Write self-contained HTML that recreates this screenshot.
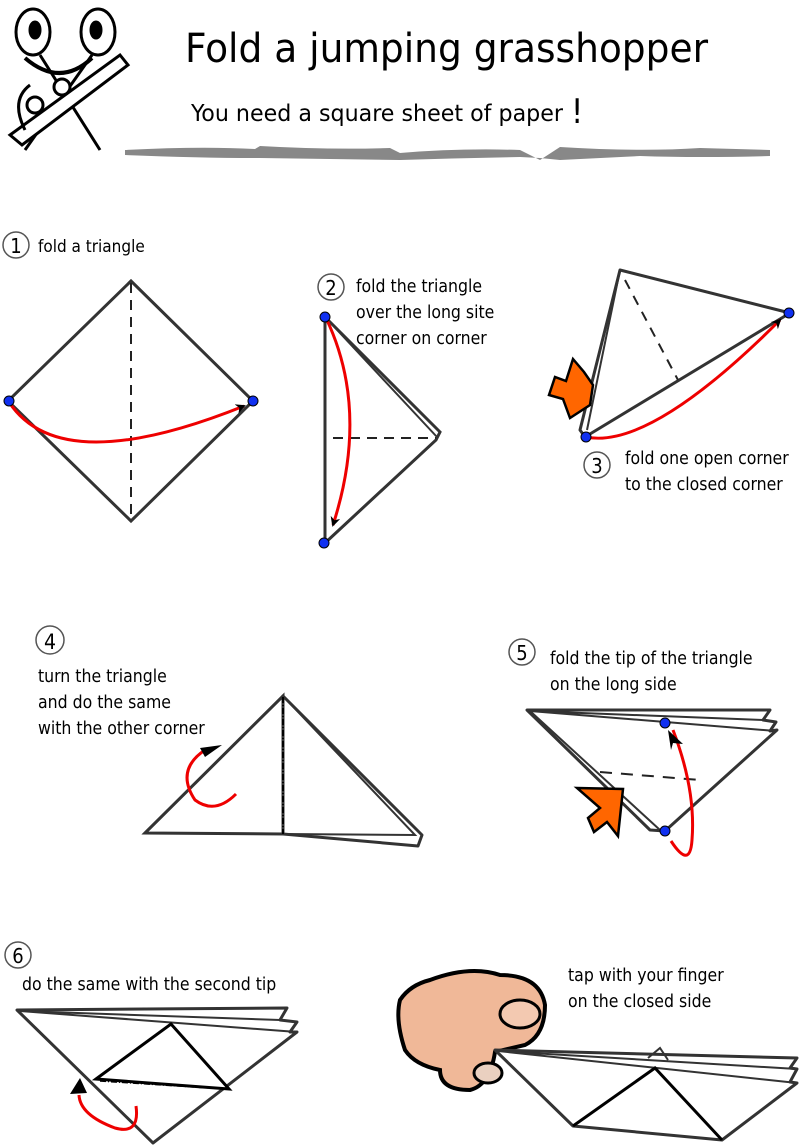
<!DOCTYPE html><html><head><meta charset="utf-8"><style>
body{margin:0;background:#fff}
svg{display:block}
text{font-family:"DejaVu Sans Condensed","Liberation Sans",sans-serif;fill:#000}
</style></head><body>
<svg width="800" height="1147" viewBox="0 0 800 1147" xmlns="http://www.w3.org/2000/svg">
<defs>
<marker id="ah" markerWidth="10" markerHeight="10" refX="8" refY="5" orient="auto" markerUnits="userSpaceOnUse"><path d="M0,0 L10,5 L0,10 L3,5z" fill="#000"/></marker>
</defs>
<!-- scissors mascot -->
<g fill="none" stroke="#000" stroke-width="3">
<path d="M40,55 L100,150 M92,55 L25,150"/>
<ellipse cx="33" cy="32" rx="17" ry="23" fill="#fff"/>
<ellipse cx="98" cy="32" rx="17" ry="23" fill="#fff"/>
<ellipse cx="35" cy="30" rx="5" ry="8" fill="#000"/>
<ellipse cx="96" cy="30" rx="5" ry="8" fill="#000"/>
<path d="M25,58 Q60,88 92,58" stroke-width="4"/>
<path d="M10,135 L120,55 L128,65 L22,145z" fill="#fff"/>
<path d="M30,85 Q10,100 25,130"/>
<circle cx="62" cy="87" r="8" fill="#fff"/><circle cx="35" cy="105" r="8" fill="#fff"/>
</g>
<text x="185" y="62" font-size="40" textLength="523" lengthAdjust="spacingAndGlyphs">Fold a jumping grasshopper</text>
<text x="191" y="121" font-size="23" textLength="372" lengthAdjust="spacingAndGlyphs">You need a square sheet of paper</text>
<text x="571" y="123" font-size="34">!</text>
<path d="M125,150 Q200,146 255,149 L260,146 Q330,150 390,148 L400,153 Q460,148 520,150 L540,160 L560,147 Q640,152 700,148 L770,150 L770,156 Q700,158 640,156 L560,160 L540,158 L520,157 Q460,158 400,160 L260,158 Q200,158 125,155z" fill="#888"/>

<!-- step 1 -->
<circle cx="16" cy="245" r="13" fill="#fff" stroke="#555" stroke-width="1.5"/>
<text x="16" y="253" font-size="20" text-anchor="middle">1</text>
<text x="38" y="252" font-size="17">fold a triangle</text>
<path d="M131,281 L253,401 L131,521 L8,401z" fill="#fff" stroke="#333" stroke-width="3"/>
<path d="M131,283 V521" stroke="#222" stroke-width="2" stroke-dasharray="10,7"/>
<path d="M9,402 Q60,480 244,406" fill="none" stroke="#e00" stroke-width="3" marker-end="url(#ah)"/>
<circle cx="9" cy="401" r="5" fill="#1030f0" stroke="#000"/><circle cx="253" cy="401" r="5" fill="#1030f0" stroke="#000"/>

<!-- step 2 -->
<circle cx="331" cy="287" r="13" fill="#fff" stroke="#555" stroke-width="1.5"/>
<text x="331" y="295" font-size="20" text-anchor="middle">2</text>
<text x="356" y="292" font-size="17.5">fold the triangle</text>
<text x="356" y="318" font-size="17.5">over the long site</text>
<text x="356" y="344" font-size="17.5">corner on corner</text>
<path d="M325,317 L440,432 L436,440 L325,543z" fill="#fff" stroke="#333" stroke-width="3"/>
<path d="M325,317 L437,437" stroke="#333" stroke-width="2"/>
<path d="M333,438 H436" stroke="#222" stroke-width="2" stroke-dasharray="10,7"/>
<path d="M326,318 Q370,410 333,525" fill="none" stroke="#e00" stroke-width="3" marker-end="url(#ah)"/>
<circle cx="325" cy="317" r="5" fill="#1030f0" stroke="#000"/><circle cx="324" cy="543" r="5" fill="#1030f0" stroke="#000"/>

<!-- step 3 -->
<path d="M620,270 L790,313 L585,437 L580,430z" fill="#fff" stroke="#333" stroke-width="3" stroke-linejoin="round"/>
<path d="M620,270 L587,430" stroke="#333" stroke-width="2"/>
<path d="M625,280 L678,380" stroke="#222" stroke-width="2" stroke-dasharray="10,8"/>
<path d="M573,359 L584,372 L593,385 L590,405 L570,418 L563,399 L549,395 L555,377 L566,381z" fill="#f60" stroke="#000" stroke-width="2.5"/>
<path d="M586,437 Q650,450 780,320" fill="none" stroke="#e00" stroke-width="3" marker-end="url(#ah)"/>
<circle cx="586" cy="437" r="5" fill="#1030f0" stroke="#000"/><circle cx="789" cy="313" r="5" fill="#1030f0" stroke="#000"/>
<circle cx="597" cy="465" r="13" fill="#fff" stroke="#555" stroke-width="1.5"/>
<text x="597" y="473" font-size="20" text-anchor="middle">3</text>
<text x="625" y="464" font-size="17.5">fold one open corner</text>
<text x="625" y="490" font-size="17.5">to the closed corner</text>

<!-- step 4 -->
<circle cx="50" cy="640" r="14" fill="#fff" stroke="#555" stroke-width="1.5"/>
<text x="50" y="649" font-size="21" text-anchor="middle">4</text>
<text x="38" y="682" font-size="17.5">turn the triangle</text>
<text x="38" y="708" font-size="17.5">and do the same</text>
<text x="38" y="734" font-size="17.5">with the other corner</text>
<path d="M283,696 L422,835 L418,846 L283,834z" fill="#fff" stroke="#333" stroke-width="3" stroke-linejoin="round"/>
<path d="M283,696 L415,835 L283,834" fill="none" stroke="#333" stroke-width="2"/>
<path d="M145,833 L283,696 L283,834z" fill="#fff" stroke="#333" stroke-width="3"/>
<path d="M283,697 V834" stroke="#000" stroke-width="2" stroke-dasharray="6,2,1,2"/>
<path d="M236,794 Q215,815 195,800 Q175,770 205,750" fill="none" stroke="#e00" stroke-width="3"/>
<path d="M200,748 L222,745 L205,757z" fill="#000"/>

<!-- step 5 -->
<circle cx="522" cy="652" r="13" fill="#fff" stroke="#555" stroke-width="1.5"/>
<text x="522" y="660" font-size="20" text-anchor="middle">5</text>
<text x="550" y="664" font-size="17.5">fold the tip of the triangle</text>
<text x="550" y="690" font-size="17.5">on the long side</text>
<path d="M527,710 L770,710 L763,720 L776,722 L770,731 L777,730 L665,831 L650,830z" fill="#fff" stroke="#333" stroke-width="3" stroke-linejoin="round"/>
<path d="M530,711 L776,731 M530,711 L763,720 M530,711 L660,830" fill="none" stroke="#333" stroke-width="2"/>
<path d="M600,772 L700,780" stroke="#222" stroke-width="2" stroke-dasharray="12,9"/>
<path d="M577,788 L623,789 L618,836 L607,822 L594,832 L588,818 L600,808z" fill="#f60" stroke="#000" stroke-width="2.5"/>
<path d="M671,841 Q690,870 692,840 Q696,790 673,730" fill="none" stroke="#e00" stroke-width="3"/>
<path d="M668,730 L683,744 L673,743 L671,750z" fill="#000"/>
<circle cx="665" cy="723" r="5" fill="#1030f0" stroke="#000"/><circle cx="665" cy="831" r="5" fill="#1030f0" stroke="#000"/>

<!-- step 6 -->
<circle cx="18" cy="955" r="13" fill="#fff" stroke="#555" stroke-width="1.5"/>
<text x="18" y="963" font-size="20" text-anchor="middle">6</text>
<text x="22" y="990" font-size="17.5">do the same with the second tip</text>
<path d="M17,1010 L287,1008 L280,1020 L297,1022 L290,1032 L297,1032 L153,1143z" fill="#fff" stroke="#333" stroke-width="3" stroke-linejoin="round"/>
<path d="M20,1011 L297,1032 M20,1011 L280,1020" fill="none" stroke="#333" stroke-width="2"/>
<path d="M96,1079 L171,1024 L229,1089z" fill="#fff" stroke="#000" stroke-width="3"/>
<path d="M100,1081 L225,1089" stroke="#000" stroke-width="1.5" stroke-dasharray="6,2,1,2"/>
<path d="M136,1106 Q140,1135 115,1128 Q80,1115 79,1095" fill="none" stroke="#e00" stroke-width="3"/>
<path d="M80,1078 L87,1093 L70,1094z" fill="#000"/>

<!-- finger -->
<text x="568" y="981" font-size="17.5">tap with your finger</text>
<text x="568" y="1007" font-size="17.5">on the closed side</text>
<path d="M430,980 Q470,965 500,975 Q540,975 545,1005 Q545,1035 525,1045 L495,1052 Q490,1085 470,1090 Q440,1090 440,1070 Q415,1065 405,1050 Q395,1020 400,1000 Q410,985 430,980z" fill="#f0b898" stroke="#000" stroke-width="4"/>
<ellipse cx="520" cy="1014" rx="20" ry="14" fill="#f3c9b1" stroke="#000" stroke-width="3"/>
<ellipse cx="488" cy="1073" rx="14" ry="10" fill="#ead0c0" stroke="#000" stroke-width="3"/>
<path d="M495,1050 L797,1058 L790,1068 L797,1069 L790,1082 L797,1083 L722,1140 L573,1126z" fill="#fff" stroke="#333" stroke-width="3" stroke-linejoin="round"/>
<path d="M498,1051 L797,1069 M498,1051 L797,1083 M648,1058 L660,1048 L668,1060" fill="none" stroke="#333" stroke-width="2"/>
<path d="M573,1126 L655,1068 L722,1140" fill="none" stroke="#000" stroke-width="3"/>
</svg>
</body></html>
